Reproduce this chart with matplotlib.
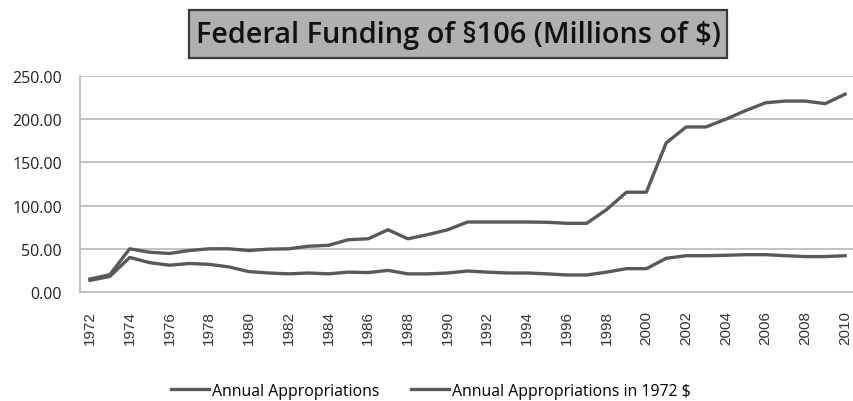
import matplotlib
matplotlib.use("Agg")
import matplotlib.pyplot as plt
from matplotlib.patches import Rectangle
from matplotlib.ticker import FormatStrFormatter

years = list(range(1972, 2011))
annual = [15, 20, 50, 46, 44.6, 48, 50, 50, 48, 49.6,
          50, 53, 54, 60.5, 61.6, 72, 61.6, 66.4, 72, 81,
          81, 81, 81, 80.7, 79.5, 79.5, 95.4, 115.5, 115.5, 172.6,
          191, 191, 200, 210, 219, 221, 221, 218, 229]
annual_1972 = [13.5, 18, 40, 34, 31, 33, 32, 29, 23.6, 22,
               21, 22, 21, 23, 22.5, 25, 21, 21, 22, 24.3,
               23, 22, 22, 21, 19.7, 19.7, 23, 27, 27, 39,
               42, 42, 42.5, 43.2, 43.2, 42, 41, 41, 42]
tick_years = years[::2]

W, H = 854, 402
fig = plt.figure(figsize=(W / 100, H / 100), dpi=100)
ax = fig.add_axes([80 / W, 109 / H, 775 / W, 216 / H])

line_col = "#595959"
ax.plot(years, annual, color=line_col, lw=2.4, label="Annual Appropriations",
        solid_joinstyle="round")
ax.plot(years, annual_1972, color=line_col, lw=2.4,
        label="Annual Appropriations in 1972 $", solid_joinstyle="round")

ax.set_xlim(1971.5, 2010.5)
ax.set_ylim(0, 250)
ax.set_yticks([0, 50, 100, 150, 200, 250])
ax.yaxis.set_major_formatter(FormatStrFormatter("%.2f"))
ax.set_xticks(tick_years)
ax.set_xticklabels([str(y) for y in tick_years], rotation=90,
                   fontsize=11, family="Liberation Sans", color="#333333")
for lab in ax.get_yticklabels():
    lab.set_fontsize(11.5)
    lab.set_family("Open Sans")
    lab.set_color("#222222")
ax.tick_params(axis="both", length=0)
ax.tick_params(axis="x", pad=13)
ax.tick_params(axis="y", pad=13)

ax.grid(axis="y", color="#bdbdbd", lw=1.3)
ax.set_axisbelow(True)
for side in ("top", "right"):
    ax.spines[side].set_visible(False)
for side in ("left", "bottom"):
    ax.spines[side].set_color("#bdbdbd")
    ax.spines[side].set_linewidth(1.3)

# title in a grey box
fig.patches.append(Rectangle((189 / W, 1 - 59 / H), 538 / W, 48 / H,
                             transform=fig.transFigure, facecolor="#b0b0b0",
                             edgecolor="#3a3a3a", lw=1.6))
fig.text(458 / W, 1 - 36 / H, "Federal Funding of §106 (Millions of $)",
         ha="center", va="center", fontsize=20.8, fontweight="semibold",
         family="Open Sans", color="#111111")

fig.legend(loc="center", bbox_to_anchor=(431 / W, 1 - 392 / H), ncol=2,
           frameon=False, handlelength=2.4, handletextpad=0.2,
           columnspacing=2.0, prop={"family": "Open Sans", "size": 11.4})

fig.savefig("out.png", dpi=100)
